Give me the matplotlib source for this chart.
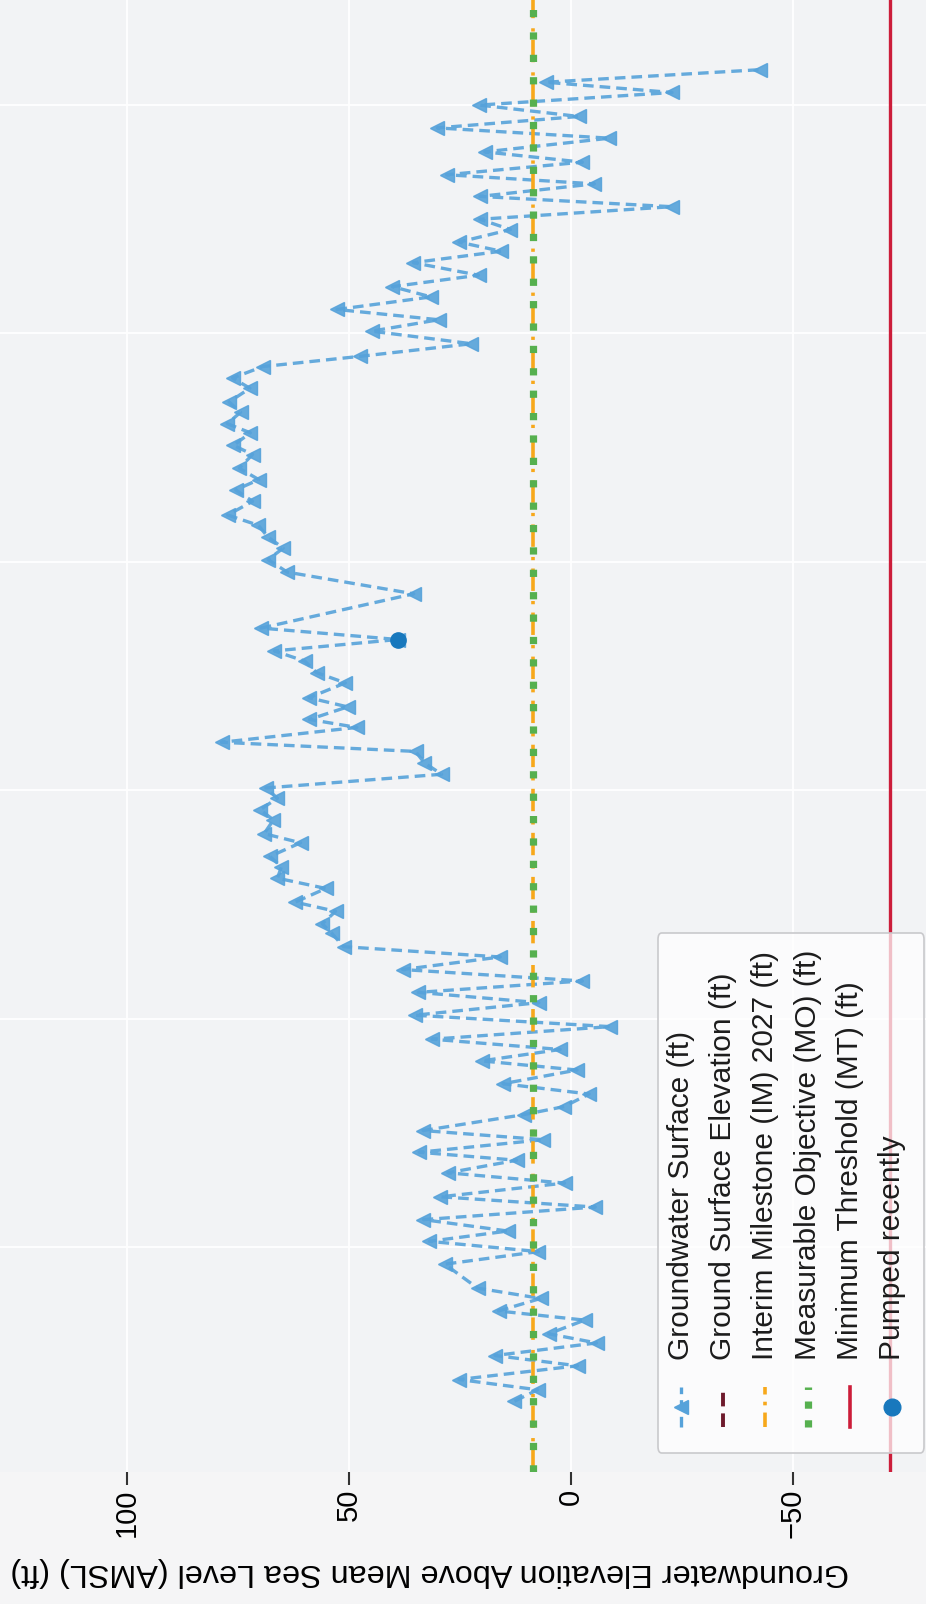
import matplotlib
matplotlib.use("Agg")
import matplotlib.pyplot as plt
from matplotlib.lines import Line2D
from matplotlib.patches import FancyBboxPatch

plt.rcParams['font.family'] = ['Liberation Sans', 'DejaVu Sans']

# measurement dates (decimal years) and groundwater elevation (ft AMSL)
sample_year = [
    2012.65, 2012.75, 2012.84, 2012.96, 2013.05, 2013.16, 2013.24, 2013.36, 2013.44, 2013.55,
    2013.64, 2013.85, 2013.96, 2014.05, 2014.14, 2014.24, 2014.35, 2014.44, 2014.56, 2014.65,
    2014.76, 2014.83, 2014.94, 2015.02, 2015.16, 2015.23, 2015.34, 2015.43, 2015.55, 2015.63,
    2015.73, 2015.82, 2015.93, 2016.03, 2016.14, 2016.23, 2016.33, 2016.43, 2016.54, 2016.63,
    2016.75, 2016.83, 2016.94, 2017.02, 2017.14, 2017.23, 2017.33, 2017.42, 2017.54, 2017.62,
    2017.74, 2017.83, 2017.93, 2018.02, 2018.14, 2018.24, 2018.34, 2018.42, 2018.55, 2018.62,
    2018.73, 2018.81, 2018.94, 2019.03, 2019.13, 2019.22, 2019.32, 2019.42, 2019.72, 2019.91,
    2020.02, 2020.12, 2020.22, 2020.32, 2020.41, 2020.53, 2020.63, 2020.72, 2020.82, 2020.94,
    2021.02, 2021.13, 2021.21, 2021.31, 2021.40, 2021.52, 2021.61, 2021.71, 2021.80, 2021.91,
    2022.02, 2022.12, 2022.21, 2022.32, 2022.41, 2022.51, 2022.62, 2022.72, 2022.80, 2022.91,
    2023.00, 2023.11, 2023.20, 2023.31, 2023.39, 2023.50, 2023.59, 2023.71, 2023.80, 2023.90,
    2024.00, 2024.11, 2024.20, 2024.31,
]
groundwater_ft = [
    12.7, 7.5, 25.2, -1.5, 17.1, -5.8, 5.0, -3.1, 16.3, 6.8,
    21.0, 28.4, 7.3, 31.9, 14.2, 33.2, -5.5, 29.4, 1.4, 27.7,
    12.2, 34.2, 6.2, 33.3, 10.5, 1.5, -4.1, 15.3, -1.4, 20.1,
    2.4, 31.3, -8.8, 35.2, 7.2, 34.4, -2.6, 37.9, 15.9, 51.2,
    53.9, 56.0, 53.0, 62.1, 55.2, 66.1, 65.2, 67.8, 60.9, 69.1,
    67.0, 70.0, 66.1, 68.7, 29.1, 33.0, 35.0, 78.7, 48.2, 58.9,
    50.3, 59.0, 50.8, 57.3, 59.9, 66.8, 39.0, 69.8, 35.4, 63.9,
    68.2, 64.8, 68.3, 70.4, 77.3, 71.7, 75.5, 70.3, 74.7, 71.7,
    76.0, 72.2, 77.4, 74.4, 77.0, 72.3, 76.2, 69.4, 47.4, 22.4,
    44.9, 29.8, 52.7, 31.5, 40.2, 20.8, 35.5, 15.7, 25.2, 13.6,
    20.5, -22.7, 20.5, -5.3, 28.0, -2.6, 19.4, -8.7, 30.1, -1.8,
    20.6, -22.8, 5.6, -42.7,
]
pumped_year = [2019.32]
pumped_ft = [39.0]

interim_milestone_ft = 8.6
measurable_objective_ft = 8.6
minimum_threshold_ft = -72.0

value_ticks = [100, 50, 0, -50]
value_tick_labels = ["100", "50", "0", "\u221250"]
year_grid = [2014, 2016, 2018, 2020, 2022, 2024]

legend_labels = [
    "Groundwater Surface (ft)",
    "Ground Surface Elevation (ft)",
    "Interim Milestone (IM) 2027 (ft)",
    "Measurable Objective (MO) (ft)",
    "Minimum Threshold (MT) (ft)",
    "Pumped recently",
]

BLUE = "#56a2da"
GSE_RED = "#6e1a2c"
ORANGE = "#f7a81b"
GREEN = "#56b04f"
RED = "#cc1d3a"
PUMP = "#1878bd"

W, H = 926, 1604
fig = plt.figure(figsize=(W / 100, H / 100), dpi=100, facecolor="#f5f5f6")
ax_bottom = 1472
ax = fig.add_axes([0, (H - ax_bottom) / H, 1, ax_bottom / H])
ax.set_facecolor("#f2f3f5")

# chart is laid out turned a quarter turn: elevation runs across, time runs up
ax.plot(groundwater_ft, sample_year, color=BLUE, lw=2.4, ls=(0, (3.2, 1.8)),
        marker="<", ms=10, alpha=0.9, zorder=3)
ax.axvline(interim_milestone_ft, color=ORANGE, lw=2.6, ls=(0, (6.2, 2.3, 0.9, 2.8)), zorder=4)
ax.axvline(measurable_objective_ft, color=GREEN, lw=5.2, ls=(0, (1, 2.1)), zorder=5)
ax.axvline(minimum_threshold_ft, color=RED, lw=2.4, zorder=4)
ax.plot(pumped_ft, pumped_year, ls="none", marker="o", ms=11, color=PUMP, zorder=6)

ax.set_xlim(128.6, -80.0)
ax.set_ylim(2012.03, 2024.92)
ax.set_xticks(value_ticks)
ax.set_xticklabels(value_tick_labels, rotation=90)
ax.set_yticks(year_grid)
ax.tick_params(axis="x", length=9, width=1.5, color="#333333", pad=3, labelsize=21)
ax.tick_params(axis="y", left=False, labelleft=False)
ax.grid(True, color="white", lw=1.3, zorder=0)
ax.set_axisbelow(True)
for s in ax.spines.values():
    s.set_visible(False)
ax.set_xlabel("Groundwater Elevation Above Mean Sea Level (AMSL) (ft)",
              rotation=180, fontsize=23.3, labelpad=12)
ax.xaxis.set_label_coords(0.464, -0.058)


def fx(px):
    return px / W


def fy(py):
    return 1 - py / H


box = FancyBboxPatch((fx(658), fy(1453)), fx(924) - fx(658), fy(933) - fy(1453),
                     boxstyle="round,pad=0,rounding_size=0.004", transform=fig.transFigure,
                     facecolor=(1, 1, 1, 0.72), edgecolor="#c9c9cc", lw=1.2, zorder=10)
fig.add_artist(box)

handle_styles = [
    dict(color=BLUE, lw=2.4, ls=(0, (3.2, 1.8)), marker="<", ms=10),
    dict(color=GSE_RED, lw=2.8, ls=(0, (3.5, 1.8))),
    dict(color=ORANGE, lw=2.6, ls=(0, (4, 2, 1, 2))),
    dict(color=GREEN, lw=5.2, ls=(0, (1, 1.6))),
    dict(color=RED, lw=2.6, ls="-"),
    dict(color=PUMP, ls="none", marker="o", ms=12),
]
for i, (label, st) in enumerate(zip(legend_labels, handle_styles)):
    xc = 681 + i * 42.2
    line = Line2D([fx(xc)] * 3, [fy(1427), fy(1407), fy(1387)], transform=fig.transFigure,
                  markevery=[1], zorder=11, **st)
    fig.add_artist(line)
    fig.text(fx(xc), fy(1360), label, rotation=90, ha="center", va="bottom",
             fontsize=21.5, color="#1c1c1c", zorder=11)

fig.savefig("out.png", dpi=100, facecolor=fig.get_facecolor())
